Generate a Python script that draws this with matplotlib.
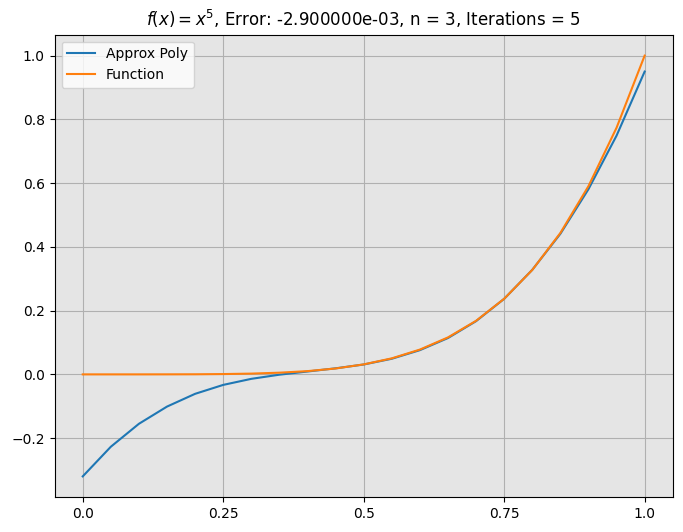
import matplotlib
matplotlib.use("Agg")
import matplotlib.pyplot as plt

# values
xs = [0.0, 0.05, 0.1, 0.15, 0.2, 0.25, 0.3, 0.35, 0.4, 0.45, 0.5,
      0.55, 0.6, 0.65, 0.7, 0.75, 0.8, 0.85, 0.9, 0.95, 1.0]
approx = [-0.320, -0.227, -0.155, -0.101, -0.061, -0.033, -0.014, -0.001, 0.009, 0.019, 0.031,
          0.049, 0.076, 0.114, 0.167, 0.237, 0.328, 0.441, 0.581, 0.749, 0.950]
func = [0.0, 0.0, 0.0, 0.0001, 0.0003, 0.001, 0.0024, 0.0053, 0.0102, 0.0185, 0.0313,
        0.0503, 0.0778, 0.1160, 0.1681, 0.2373, 0.3277, 0.4437, 0.5905, 0.7738, 1.0]
xtick_pos = [0.0, 0.25, 0.5, 0.75, 1.0]
xtick_lab = ["0.0", "0.25", "0.5", "0.75", "1.0"]

fig = plt.figure(figsize=(6.83, 5.32), dpi=100)
ax = fig.add_subplot(111)
ax.set_facecolor('#e5e5e5')
ax.plot(xs, approx, label='Approx Poly')
ax.plot(xs, func, label='Function')
ax.set_xticks(xtick_pos)
ax.set_xticklabels(xtick_lab)
ax.grid(True, color='#b0b0b0')
ax.set_axisbelow(True)
ax.legend(loc='upper left')
ax.set_title(r'$f(x) = x^5$, Error: -2.900000e-03, n = 3, Iterations = 5')
plt.subplots_adjust(left=0.08, right=0.985, bottom=0.065, top=0.935)
plt.savefig('out.png', dpi=100)
